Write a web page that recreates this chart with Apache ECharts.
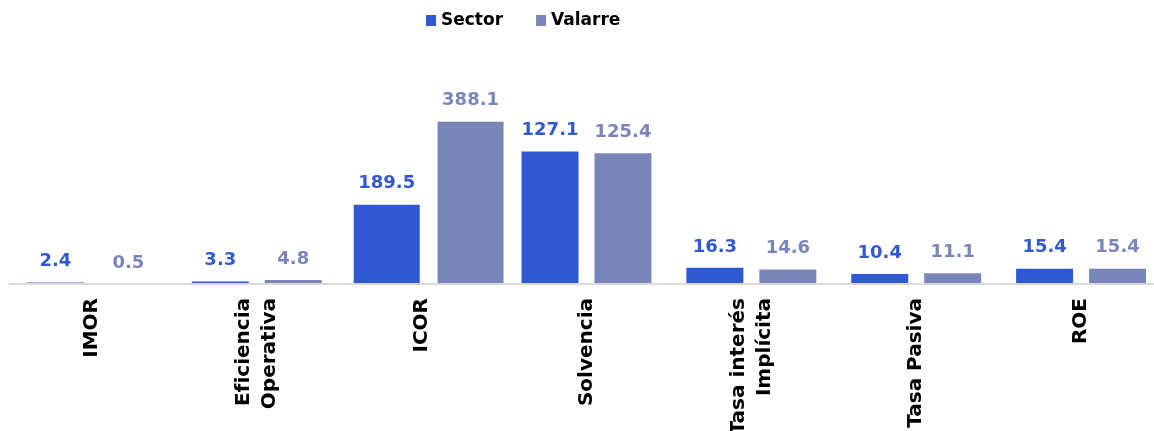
<!DOCTYPE html>
<html lang="es">
<head>
    <meta charset="UTF-8">
    <title>Sector vs Valarre</title>
    <script src="https://cdn.jsdelivr.net/npm/echarts@6/dist/echarts.min.js"></script>
    <style>
        html, body {
            margin: 0;
            padding: 0;
            background: #fff;
        }

        #main {
            width: 1154px;
            height: 431px;
        }
    </style>
</head>
<body>
<div id="main"></div>
<script>
    // datos
    var categories = ['IMOR', 'Eficiencia\nOperativa', 'ICOR', 'Solvencia', 'Tasa interés\nImplícita', 'Tasa Pasiva', 'ROE'];
    var sector = [2.4, 3.3, 189.5, 127.1, 16.3, 10.4, 15.4];
    var valarre = [0.5, 4.8, 388.1, 125.4, 14.6, 11.1, 15.4];
    // ICOR va en su propia escala
    var secondaryCats = ['ICOR'];

    var colorSector = '#3158d4';
    var colorValarre = '#7886b9';
    var font = '"DejaVu Sans", sans-serif';

    function pick(values, secondary) {
        return values.map(function (v, i) {
            var isSec = secondaryCats.indexOf(categories[i]) >= 0;
            return isSec === secondary ? v : '-';
        });
    }

    function barSeries(name, values, color, secondary) {
        return {
            name: name,
            type: 'bar',
            xAxisIndex: secondary ? 1 : 0,
            yAxisIndex: secondary ? 1 : 0,
            data: pick(values, secondary),
            barWidth: secondary ? 66 : 57,
            barGap: secondary ? '27%' : '28%',
            clip: false,
            itemStyle: {color: color},
            label: {
                show: true,
                position: 'top',
                distance: 12,
                color: color,
                fontFamily: font,
                fontWeight: 'bold',
                fontSize: 18
            }
        };
    }

    var myChart = echarts.init(document.getElementById('main'));
    var option = {
        animation: false,
        legend: {
            left: 426,
            top: 12,
            padding: 0,
            itemWidth: 10,
            itemHeight: 11,
            itemGap: 33,
            icon: 'rect',
            data: [
                {name: 'Sector', itemStyle: {color: colorSector}},
                {name: 'Valarre', itemStyle: {color: colorValarre}}
            ],
            textStyle: {
                color: '#000',
                fontFamily: font,
                fontWeight: 'bold',
                fontSize: 17
            }
        },
        grid: [
            {left: 9.5, right: -9.5, top: 75, bottom: 147, outerBoundsMode: 'none'},
            {left: 16.5, right: -16.5, top: 75, bottom: 147, outerBoundsMode: 'none'}   // ICOR un poco desplazado
        ],
        xAxis: [
            {
                type: 'category',
                gridIndex: 0,
                data: categories,
                z: 5,   // linea por encima de las barras
                axisTick: {show: false},
                axisLine: {lineStyle: {color: '#d9d9d9', width: 2}},
                axisLabel: {
                    interval: 0,
                    rotate: 90,
                    margin: 14,
                    color: '#000',
                    fontFamily: font,
                    fontWeight: 'bold',
                    fontSize: 20,
                    lineHeight: 26
                }
            },
            {
                type: 'category',
                gridIndex: 1,
                data: categories,
                show: false
            }
        ],
        yAxis: [
            {type: 'value', gridIndex: 0, min: 0.9, max: 200, show: false, splitLine: {show: false}},
            {type: 'value', gridIndex: 1, min: 0, max: 500, show: false, splitLine: {show: false}}
        ],
        series: [
            barSeries('Sector', sector, colorSector, false),
            barSeries('Valarre', valarre, colorValarre, false),
            barSeries('Sector', sector, colorSector, true),
            barSeries('Valarre', valarre, colorValarre, true)
        ]
    };
    myChart.setOption(option);
</script>
</body>
</html>
